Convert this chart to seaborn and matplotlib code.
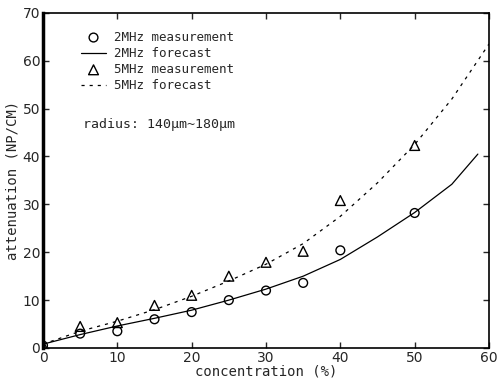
import matplotlib
matplotlib.use("Agg")
import matplotlib.pyplot as plt
import seaborn as sns
import pandas as pd

sns.set_style("ticks")
plt.rcParams['font.family'] = ['DejaVu Sans']

# measured data
conc = [0, 5, 10, 15, 20, 25, 30, 35, 40, 50]
meas_2mhz = [0.5, 3.0, 3.5, 6.0, 7.5, 10.0, 12.0, 13.6, 20.4, 28.2]
meas_5mhz = [0.5, 4.5, 5.3, 8.9, 11.0, 15.0, 17.9, 20.2, 30.8, 42.3]

# forecast curves
fc_x_2mhz = [0, 5, 10, 15, 20, 25, 30, 35, 40, 45, 50, 55, 58.5]
fc_2mhz = [0.8, 2.8, 4.6, 6.2, 7.9, 10.0, 12.3, 15.0, 18.5, 23.2, 28.3, 34.2, 40.5]
fc_x_5mhz = [0, 5, 10, 15, 20, 25, 30, 35, 40, 45, 50, 55, 60]
fc_5mhz = [0.8, 3.5, 5.6, 8.0, 10.8, 14.0, 17.5, 21.8, 27.5, 34.5, 42.5, 52.0, 63.5]

labels = ["2MHz measurement", "2MHz forecast", "5MHz measurement", "5MHz forecast"]

fig = plt.figure(figsize=(5.0, 3.83), dpi=100)
ax = fig.add_axes([0.086, 0.0914, 0.892, 0.875])

sns.scatterplot(x=conc, y=meas_2mhz, ax=ax, marker='o', s=40, facecolors='none',
                edgecolor='black', linewidth=1.0, label=labels[0], zorder=3)
sns.lineplot(x=fc_x_2mhz, y=fc_2mhz, ax=ax, color='black', linewidth=0.9,
             label=labels[1])
sns.scatterplot(x=conc, y=meas_5mhz, ax=ax, marker='^', s=50, facecolors='none',
                edgecolor='black', linewidth=1.0, label=labels[2], zorder=3)
sns.lineplot(x=fc_x_5mhz, y=fc_5mhz, ax=ax, color='black', linewidth=0.9,
             linestyle=(0, (2.5, 4)), label=labels[3])

ax.set_xlim(0, 60)
ax.set_ylim(0, 70)
ax.set_xticks([0, 10, 20, 30, 40, 50, 60])
ax.set_yticks([0, 10, 20, 30, 40, 50, 60, 70])
ax.tick_params(direction='in', length=4, width=1, labelsize=10, top=True, right=True,
               pad=2)
for sp in ax.spines.values():
    sp.set_visible(True)
    sp.set_linewidth(1.2)
    sp.set_color('black')
ax.spines['left'].set_linewidth(2.5)

ax.set_xlabel("concentration (%)", fontsize=10, family='DejaVu Sans Mono', labelpad=0)
ax.set_ylabel("attenuation (NP/CM)", fontsize=10, family='DejaVu Sans Mono', labelpad=2)

leg = ax.legend(loc='upper left', bbox_to_anchor=(0.06, 0.98), frameon=False,
                handlelength=2.0, handletextpad=0.6, labelspacing=0.25,
                prop={'family': 'DejaVu Sans Mono', 'size': 9})

ax.text(0.09, 0.655, "radius: 140\u00b5m~180\u00b5m", transform=ax.transAxes,
        fontsize=9.5, family='DejaVu Sans Mono')

fig.savefig("out.png", dpi=100)
